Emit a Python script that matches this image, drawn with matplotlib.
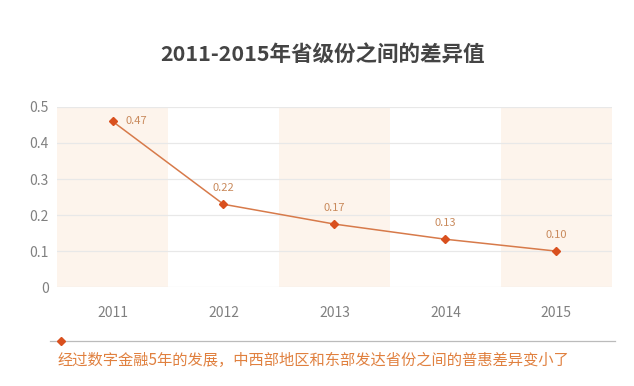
import matplotlib

matplotlib.use("Agg")
import matplotlib.pyplot as plt  # noqa: E402
from matplotlib.lines import Line2D  # noqa: E402

plt.rcParams["font.family"] = ["Noto Sans CJK SC", "DejaVu Sans"]

YEARS = ["2011", "2012", "2013", "2014", "2015"]
VALUES = [0.46, 0.23, 0.175, 0.133, 0.10]
LABELS = ["0.47", "0.22", "0.17", "0.13", "0.10"]
Y_TICKS = [0, 0.1, 0.2, 0.3, 0.4, 0.5]
TITLE = "2011-2015年省级份之间的差异值"
NOTE = "经过数字金融5年的发展，中西部地区和东部发达省份之间的普惠差异变小了"

fig = plt.figure(figsize=(6.34, 3.86), dpi=100)
ax = fig.add_axes([0.090, 0.256, 0.875, 0.467])

x = list(range(len(YEARS)))
for i in x[::2]:
    ax.axvspan(i - 0.5, i + 0.5, color="#fdf4ec", zorder=0, lw=0)

for t in Y_TICKS:
    ax.axhline(t, color="#e8e8e8", lw=0.9, zorder=1)

ax.plot(x, VALUES, color="#d77a4a", lw=1.1, zorder=3)
ax.plot(x, VALUES, ls="none", marker="D", ms=4.5, color="#d9501e", zorder=4)

for i, (v, lab) in enumerate(zip(VALUES, LABELS)):
    if i == 0:
        ax.annotate(lab, (i, v), xytext=(9, 0), textcoords="offset points",
                    ha="left", va="center", fontsize=8, color="#c98a5c")
    else:
        ax.annotate(lab, (i, v), xytext=(0, 8), textcoords="offset points",
                    ha="center", va="bottom", fontsize=8, color="#c98a5c")

ax.set_xlim(-0.5, len(YEARS) - 0.5)
ax.set_ylim(0, 0.5)
ax.set_xticks(x)
ax.set_xticklabels(YEARS)
ax.set_yticks(Y_TICKS)
ax.set_yticklabels([f"{t:g}" for t in Y_TICKS])
ax.tick_params(length=0, labelsize=10, colors="#808080")
ax.tick_params(axis="x", pad=13.5)
ax.tick_params(axis="y", pad=6)
for side in ax.spines.values():
    side.set_visible(False)

fig.text(0.508, 0.858, TITLE, ha="center", va="center", fontsize=15.5,
         fontweight="bold", color="#444444")

fig.add_artist(Line2D([0.079, 0.970], [0.117, 0.117], transform=fig.transFigure,
                      color="#bbbbbb", lw=0.9))
fig.add_artist(Line2D([0.096], [0.117], transform=fig.transFigure, ls="none",
                      marker="D", ms=4, color="#d9501e"))
fig.text(0.090, 0.065, NOTE, ha="left", va="center", fontsize=11, color="#e0803f")

fig.savefig("out.png", dpi=100, facecolor="white")
